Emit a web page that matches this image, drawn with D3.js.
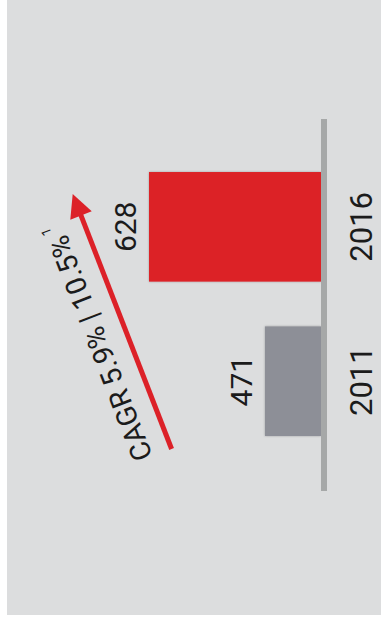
<!DOCTYPE html>
<html>
<head>
<meta charset="utf-8">
<script src="https://cdn.jsdelivr.net/npm/d3@7"></script>
<style>
  html, body { margin: 0; padding: 0; background: #ffffff; }
  svg { display: block; }
  text { font-family: Roboto, "Liberation Sans", sans-serif; fill: #1b1b1b; }
</style>
</head>
<body>
<svg id="chart" width="381" height="625"></svg>
<script>
// Sales, two reference years
const years = ["2016", "2011"];
const values = [628, 471];
const barColors = ["#dc2128", "#8d8f97"];
const growthMain = "CAGR 5.9% | 10.5%";
const growthNote = "1";
const valueFloor = 395; // value axis is truncated

const W = 381, H = 625;
const svg = d3.select("#chart");

// panel background
svg.append("rect")
  .attr("x", 7).attr("y", 0).attr("width", W - 7).attr("height", 615)
  .attr("fill", "#dcddde");

const defs = svg.append("defs");
const shadow = defs.append("filter").attr("id", "barShadow")
  .attr("x", "-5%").attr("y", "-5%").attr("width", "110%").attr("height", "110%");
shadow.append("feDropShadow")
  .attr("dx", 0).attr("dy", 0).attr("stdDeviation", 1)
  .attr("flood-color", "#000").attr("flood-opacity", 0.28);

// bars grow leftwards from the baseline, categories run down the page
const baseX = 321;
const x = d3.scaleLinear().domain([valueFloor, 628]).range([baseX, 149]);
const y = d3.scaleBand().domain(years).range([118, 490])
  .paddingInner(0.29).paddingOuter(0.35);

const data = years.map((yr, i) => ({ year: yr, value: values[i], color: barColors[i] }));

svg.append("g").selectAll("rect")
  .data(data).join("rect")
  .attr("x", d => x(d.value))
  .attr("y", d => y(d.year))
  .attr("width", d => baseX - x(d.value))
  .attr("height", y.bandwidth())
  .attr("fill", d => d.color)
  .attr("filter", "url(#barShadow)");

// baseline
svg.append("line")
  .attr("x1", baseX + 3).attr("x2", baseX + 3)
  .attr("y1", y.range()[0] + 1).attr("y2", y.range()[1] + 1)
  .attr("stroke", "#a6a8a8").attr("stroke-width", 6);

// value labels
svg.append("g").selectAll("text")
  .data(data).join("text")
  .attr("transform", d => `translate(${x(d.value) - 13},${y(d.year) + y.bandwidth() / 2}) rotate(-90)`)
  .attr("text-anchor", "middle")
  .attr("font-size", 30)
  .text(d => d.value);

// category labels on the far side of the baseline
svg.append("g").selectAll("text")
  .data(data).join("text")
  .attr("transform", d => `translate(${baseX + 51},${y(d.year) + y.bandwidth() / 2}) rotate(-90)`)
  .attr("text-anchor", "middle")
  .attr("font-size", 31)
  .text(d => d.year);

// growth arrow from the 2011 bar towards the 2016 bar
const tail = [x(471) - 93.3, y("2011") + y.bandwidth() + 13];
const tip = [x(628) - 76.3, y("2016") + 22];
const dx = tip[0] - tail[0], dy = tip[1] - tail[1];
const len = Math.hypot(dx, dy);
const ux = dx / len, uy = dy / len;     // along the arrow
const px = -uy, py = ux;                 // across the arrow
const headL = 23, headW = 23;
const base = [tip[0] - ux * headL, tip[1] - uy * headL];

svg.append("line")
  .attr("x1", tail[0]).attr("y1", tail[1])
  .attr("x2", base[0] + ux * 2).attr("y2", base[1] + uy * 2)
  .attr("stroke", "#dc2128").attr("stroke-width", 5);

svg.append("path")
  .attr("d", d3.line()([
    tip,
    [base[0] + px * headW / 2, base[1] + py * headW / 2],
    [base[0] - px * headW / 2, base[1] - py * headW / 2]
  ]) + "Z")
  .attr("fill", "#dc2128");

// CAGR annotation running alongside the arrow
const angle = Math.atan2(dy, dx) * 180 / Math.PI;
const off = 20; // gap between arrow and text baseline
const upX = uy, upY = -ux; // text "up" direction
const anchor = [tail[0] + upX * off, tail[1] + upY * off];

const label = svg.append("text")
  .attr("transform", `translate(${anchor[0]},${anchor[1]}) rotate(${angle})`)
  .attr("font-size", 28.5);
label.append("tspan").text(growthMain);
label.append("tspan")
  .attr("font-size", 13)
  .attr("dx", 5).attr("dy", -14)
  .text(growthNote);
</script>
</body>
</html>
